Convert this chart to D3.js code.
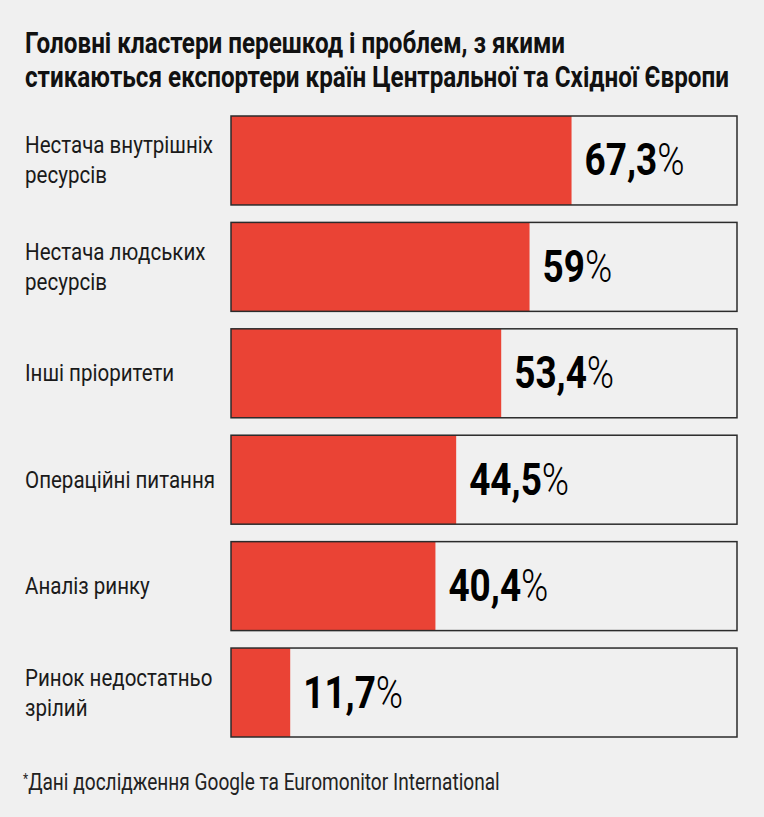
<!DOCTYPE html>
<html>
<head>
<meta charset="utf-8">
<script src="https://cdn.jsdelivr.net/npm/d3@7"></script>
<style>
  html, body { margin: 0; padding: 0; background: #f0f0f0; }
  svg { display: block; }
  text { font-family: Roboto, "Noto Sans", sans-serif; }
</style>
</head>
<body>
<svg id="chart"></svg>
<script>
// chart data
const titleLines = [
    "Головні кластери перешкод і проблем, з якими",
    "стикаються експортери країн Центральної та Східної Європи"
];
const categories = [
    ["Нестача внутрішніх", "ресурсів"],
    ["Нестача людських", "ресурсів"],
    ["Інші пріоритети"],
    ["Операційні питання"],
    ["Аналіз ринку"],
    ["Ринок недостатньо", "зрілий"]
];
const values = [67.3, 59, 53.4, 44.5, 40.4, 11.7];
const footnote = "Дані дослідження Google та Euromonitor International";

const width = 764, height = 817;
const margin = { top: 116, right: 27, bottom: 80, left: 231 };

const svg = d3.select('#chart')
    .attr('width', width)
    .attr('height', height);

svg.append('rect')
    .attr('width', width)
    .attr('height', height)
    .attr('fill', '#f0f0f0');

const x = d3.scaleLinear()
    .domain([0, 100])
    .range([margin.left, width - margin.right]);

const y = d3.scaleBand()
    .domain(d3.range(values.length))
    .range([margin.top, height - margin.bottom])
    .paddingInner(0.164)
    .paddingOuter(0);

// squeeze text horizontally so it looks like a condensed face
function condense(sel, factor) {
    sel.each(function () {
        const t = d3.select(this);
        const tx = +t.attr('data-x'), ty = +t.attr('data-y');
        t.attr('transform', `translate(${tx},${ty}) scale(${factor},1)`);
    });
}
function fitFactor(node, target) {
    return target / node.getComputedTextLength();
}

// title
const title = svg.append('g').selectAll('text')
    .data(titleLines)
    .join('text')
    .attr('data-x', 25)
    .attr('data-y', (d, i) => 53 + i * 34)
    .attr('font-size', 29)
    .attr('font-weight', 700)
    .attr('fill', '#111')
    .text(d => d);
condense(title, fitFactor(title.nodes()[1], 704));

// bars
const rows = svg.append('g').selectAll('g')
    .data(values.map((v, i) => ({ v, i, lines: categories[i] })))
    .join('g');

rows.append('rect')
    .attr('x', x(0))
    .attr('y', d => y(d.i))
    .attr('width', d => x(d.v) - x(0))
    .attr('height', y.bandwidth())
    .attr('fill', '#ea4335');

rows.append('rect')
    .attr('x', x(0))
    .attr('y', d => y(d.i))
    .attr('width', x(100) - x(0))
    .attr('height', y.bandwidth())
    .attr('fill', 'none')
    .attr('stroke', '#2b2b2b')
    .attr('stroke-width', 1.5);

// category labels
const labels = rows.selectAll('text.label')
    .data(d => d.lines.map((l, j) => ({ l, j, n: d.lines.length, i: d.i })))
    .join('text')
    .attr('class', 'label')
    .attr('data-x', 25)
    .attr('data-y', d => {
        const c = y(d.i) + y.bandwidth() / 2;
        return d.n === 1 ? c + 8 : c - 7 + d.j * 30;
    })
    .attr('font-size', 24)
    .attr('fill', '#1a1a1a')
    .text(d => d.l);
condense(labels, fitFactor(labels.nodes()[0], 188));

// value labels
const valueText = rows.append('text')
    .attr('class', 'value')
    .attr('data-x', d => x(d.v) + 13)
    .attr('data-y', d => y(d.i) + y.bandwidth() / 2 + 15)
    .attr('font-size', 45)
    .attr('fill', '#000');
valueText.append('tspan')
    .attr('font-weight', 700)
    .text(d => String(d.v).replace('.', ','));
valueText.append('tspan')
    .attr('font-weight', 300)
    .text('%');
condense(valueText, fitFactor(valueText.nodes()[0], 100));

// footnote
const note = svg.append('text')
    .attr('data-x', 23)
    .attr('data-y', 790)
    .attr('font-size', 24)
    .attr('fill', '#222');
note.append('tspan')
    .attr('font-size', 15)
    .attr('dy', -6)
    .text('*');
note.append('tspan')
    .attr('dy', 6)
    .text(footnote);
condense(note, fitFactor(note.node(), 477));
</script>
</body>
</html>
